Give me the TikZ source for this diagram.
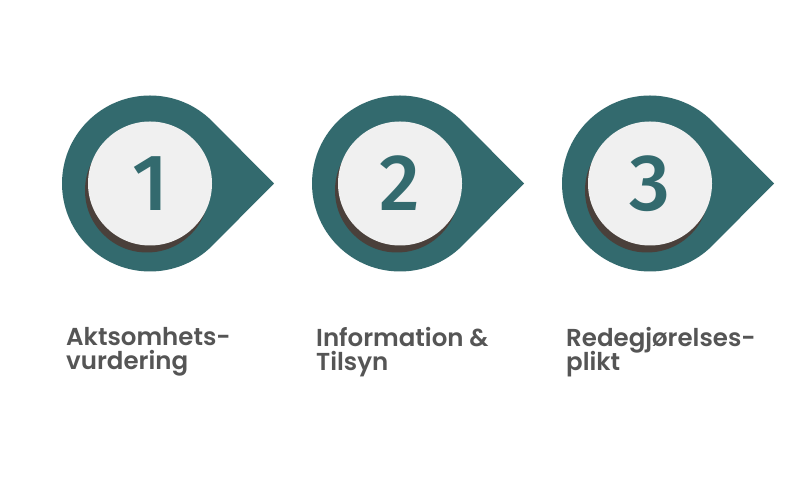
\documentclass[tikz,border=0pt]{standalone}
\usepackage{fontspec}
\usetikzlibrary{calc}
\setmainfont{Poppins}
\newfontfamily\labfont{Poppins SemiBold}
\newfontfamily\numfont{Fira Sans Medium}
\newcommand\mylabfont{\labfont\fontsize{24.5}{24}\selectfont\lineskiplimit -20pt\relax}
\definecolor{teal1}{HTML}{336A6E}
\definecolor{lightc}{HTML}{F0F0F0}
\definecolor{shadowc}{HTML}{4A403B}
\definecolor{textc}{HTML}{555555}
\tikzset{
  pin/.style={fill=teal1},
  disc/.style={fill=lightc},
  discshadow/.style={fill=shadowc},
  numtext/.style={inner sep=0pt, text=teal1, font=\numfont\fontsize{80}{80}\selectfont},
  labtext/.style={inner sep=0pt, anchor=north west, align=left, text=textc, font=\mylabfont}
}
\begin{document}
\begin{tikzpicture}[x=1pt,y=1pt]
\useasboundingbox (0,0) rectangle (800,500);
\fill[white] (0,0) rectangle (800,500);
\foreach \i/\cx in {1/150,2/400,3/650}{
  \fill[pin] (\cx+124,316.5) -- ($(\cx,316.5)+(45:88)$) arc[start angle=45,end angle=315,radius=88] -- cycle;
  \fill[discshadow] (\cx-3,309.5) circle[radius=62];
  \fill[disc] (\cx,316.5) circle[radius=62];
  \node[numtext] (n\i) at (\cx,316.5) {\i};
}
\node[labtext] (l1) at (66,173) {Aktsomhets-\\vurdering};
\node[labtext] (l2) at (316,173) {Information \&\\Tilsyn};
\node[labtext] (l3) at (566,173) {Redegjørelses-\\plikt};
\end{tikzpicture}
\end{document}
